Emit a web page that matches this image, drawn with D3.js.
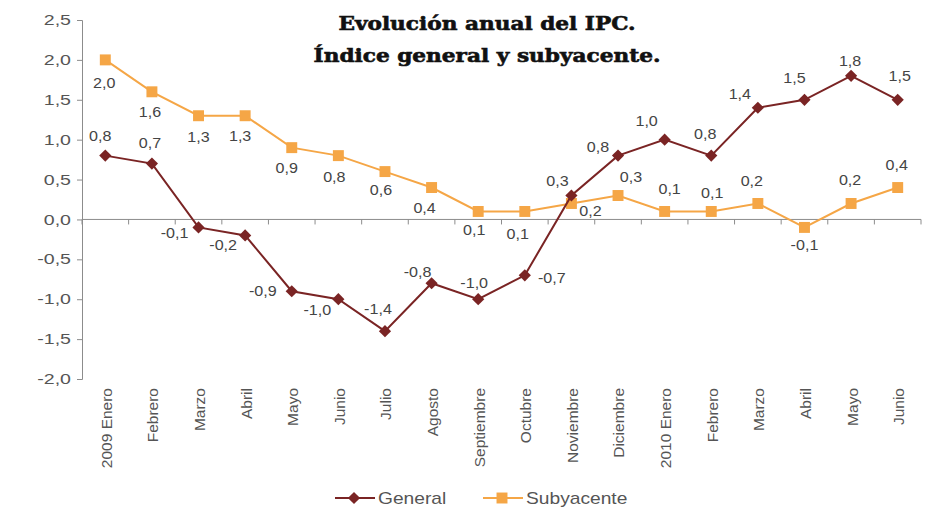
<!DOCTYPE html>
<html>
<head>
<meta charset="utf-8">
<script src="https://cdn.jsdelivr.net/npm/d3@7.9.0/dist/d3.min.js"></script>
<style>
  body { margin: 0; background: #fff; }
  svg { display: block; }
  svg text { font-family: "Liberation Sans", Arial, sans-serif; }
</style>
</head>
<body>
<svg id="chart" width="930" height="513"></svg>
<script>
const months = ['2009 Enero', 'Febrero', 'Marzo', 'Abril', 'Mayo', 'Junio', 'Julio', 'Agosto',
  'Septiembre', 'Octubre', 'Noviembre', 'Diciembre', '2010 Enero', 'Febrero', 'Marzo', 'Abril', 'Mayo', 'Junio'];
const general = [0.8, 0.7, -0.1, -0.2, -0.9, -1.0, -1.4, -0.8, -1.0, -0.7, 0.3, 0.8, 1.0, 0.8, 1.4, 1.5, 1.8, 1.5];
const subyacente = [2.0, 1.6, 1.3, 1.3, 0.9, 0.8, 0.6, 0.4, 0.1, 0.1, 0.2, 0.3, 0.1, 0.1, 0.2, -0.1, 0.2, 0.4];
const yTicks = [-2.0, -1.5, -1.0, -0.5, 0.0, 0.5, 1.0, 1.5, 2.0, 2.5];

// where each value label sits relative to its point [dx, dy]
const generalLabelPos = [[-5, -20], [-2, -21], [-24, 6], [-22, 10], [-29, 0], [-21, 11], [-7, -22], [-14, -11],
  [-4, -16], [27, 3], [-14, -14], [-20, -9], [-18, -19], [-6, -22], [-18, -14], [-10, -22], [-1, -15], [2, -24]];
const subLabelPos = [[-1, 23], [-2, 20], [0, 21], [-5, 20], [-5, 20], [-4, 21], [-4, 19], [-7, 21],
  [-4, 19], [-7, 23], [19, 8], [13, -18], [5, -22], [1, -18], [-6, -22], [0, 18], [-1, -23], [-1, -22]];

const fmt = v => d3.format('.1f')(v).replace('.', ',').replace('−', '-');

const svg = d3.select('#chart');
const margin = { left: 82, right: 9, top: 20, bottom: 134 };
const width = 930, height = 513;

const x = d3.scaleBand().domain(d3.range(months.length)).range([margin.left, width - margin.right]);
const y = d3.scaleLinear().domain([-2, 2.5]).range([height - margin.bottom, margin.top]);
const cx = i => x(i) + x.bandwidth() / 2;

const gray = '#8c8c8c';
const textCol = '#555';

// y axis (the source picture is a bit stretched sideways, so its text is too)
const yAxis = svg.append('g')
  .attr('transform', `translate(${margin.left},0)`)
  .call(d3.axisLeft(y).tickValues(yTicks).tickSize(5).tickPadding(6).tickFormat(fmt));
yAxis.select('.domain').attr('stroke', gray);
yAxis.selectAll('.tick line').attr('stroke', gray);
yAxis.selectAll('.tick text')
  .attr('fill', textCol)
  .style('font-size', '14.5px')
  .attr('transform', function () { return `translate(${this.getAttribute('x')},0) scale(1.35,1)`; })
  .attr('x', 0);

// x axis along zero line, ticks at band boundaries
const xAxis = svg.append('g').attr('transform', `translate(0,${y(0)})`);
xAxis.append('line')
  .attr('x1', margin.left).attr('x2', width - margin.right)
  .attr('stroke', gray);
xAxis.selectAll('line.tk')
  .data(d3.range(months.length + 1))
  .join('line')
  .attr('class', 'tk')
  .attr('x1', i => margin.left + i * x.step())
  .attr('x2', i => margin.left + i * x.step())
  .attr('y1', 0).attr('y2', 5)
  .attr('stroke', gray);

// month labels, rotated
svg.append('g').selectAll('text')
  .data(months)
  .join('text')
  .attr('transform', (d, i) => `translate(${cx(i) + 1},${y(-2) + 9}) rotate(-90)`)
  .attr('text-anchor', 'end')
  .attr('dy', '0.35em')
  .attr('fill', textCol)
  .style('font-size', '15.5px')
  .text(d => d);

// series
const series = [
  { name: 'General', values: general, color: '#7a2424', marker: d3.symbolDiamond2, size: 95, pos: generalLabelPos },
  { name: 'Subyacente', values: subyacente, color: '#f5a646', marker: d3.symbolSquare, size: 120, pos: subLabelPos }
];

const line = d3.line().x((d, i) => cx(i)).y(d => y(d));

// draw subyacente first so general sits on top
[series[1], series[0]].forEach(s => {
  svg.append('path')
    .datum(s.values)
    .attr('d', line)
    .attr('fill', 'none')
    .attr('stroke', s.color)
    .attr('stroke-width', 2);
  svg.append('g').selectAll('path')
    .data(s.values)
    .join('path')
    .attr('d', d3.symbol(s.marker, s.size))
    .attr('transform', (d, i) => `translate(${cx(i)},${y(d)})`)
    .attr('fill', s.color);
});

series.forEach(s => {
  svg.append('g').selectAll('text')
    .data(s.values)
    .join('text')
    .attr('transform', (d, i) => `translate(${cx(i) + s.pos[i][0]},${y(d) + s.pos[i][1]}) scale(1.15,1)`)
    .attr('text-anchor', 'middle')
    .attr('dy', '0.35em')
    .attr('fill', '#444')
    .style('font-size', '14px')
    .text(d => fmt(d));
});

// title
const title = svg.append('text')
  .attr('transform', `translate(487,0) scale(1.17,1)`)
  .attr('text-anchor', 'middle')
  .attr('fill', '#111')
  .attr('stroke', '#111')
  .attr('stroke-width', 0.6)
  .style('font-family', '"DejaVu Serif", serif')
  .style('font-weight', 'bold')
  .style('font-size', '18.5px');
title.append('tspan').attr('x', 0).attr('y', 30).text('Evolución anual del IPC.');
title.append('tspan').attr('x', 0).attr('y', 62).text('Índice general y subyacente.');

// legend
const legend = svg.append('g').attr('transform', 'translate(0,498)');
const legendX = [335, 483];
series.forEach((s, k) => {
  const g = legend.append('g').attr('transform', `translate(${legendX[k]},0)`);
  g.append('line').attr('x1', 0).attr('x2', 40).attr('stroke', s.color).attr('stroke-width', 2);
  g.append('path').attr('d', d3.symbol(s.marker, s.size)).attr('transform', 'translate(19,0)').attr('fill', s.color);
  g.append('text').attr('transform', 'translate(43,0) scale(1.2,1)').attr('dy', '0.35em').attr('fill', textCol)
    .style('font-size', '16px').text(s.name);
});
</script>
</body>
</html>
